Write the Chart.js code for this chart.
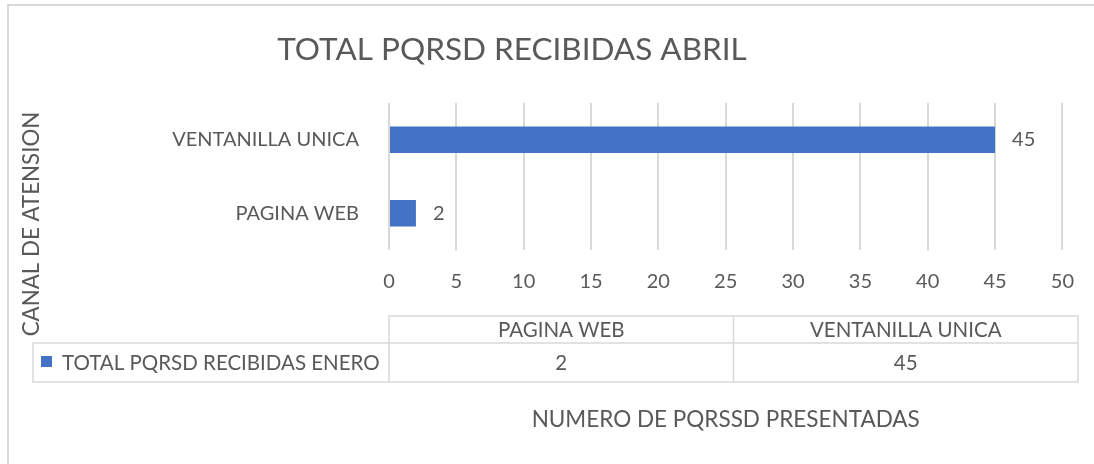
<!DOCTYPE html>
<html>
<head>
<meta charset="utf-8">
<script src="https://cdn.jsdelivr.net/npm/chart.js@4/dist/chart.umd.min.js"></script>
<style>
  html, body { margin: 0; padding: 0; background: #fff; }
  #wrap { width: 1094px; height: 464px; }
</style>
</head>
<body>
<div id="wrap"><canvas id="grafico"></canvas></div>
<script>
// datos
var categorias = ['VENTANILLA UNICA', 'PAGINA WEB'];
var valores = [45, 2];
var tablaColumnas = ['PAGINA WEB', 'VENTANILLA UNICA'];
var tablaValores = [2, 45];
var serieNombre = 'TOTAL PQRSD RECIBIDAS ENERO';
var titulo = 'TOTAL PQRSD RECIBIDAS ABRIL';
var tituloX = 'NUMERO DE PQRSSD PRESENTADAS';
var tituloY = 'CANAL DE ATENSION';

var fuente = 'Lato, "Open Sans", sans-serif';
var gris = '#595959';
var linea = '#d9d9d9';
var azul = '#4472c4';

// dibuja titulo, etiquetas, tabla de datos y borde
var extras = {
    id: 'extras',
    afterDraw: function (chart) {
        var ctx = chart.ctx;
        var area = chart.chartArea;
        ctx.save();

        // borde
        ctx.strokeStyle = linea;
        ctx.lineWidth = 2;
        ctx.beginPath();
        ctx.moveTo(8, 470);
        ctx.lineTo(8, 5);
        ctx.lineTo(1094, 5);
        ctx.stroke();

        // titulo
        ctx.fillStyle = gris;
        ctx.font = '31.5px ' + fuente;
        ctx.textAlign = 'center';
        ctx.textBaseline = 'middle';
        ctx.fillText(titulo, 512, 50);

        // titulo eje Y
        ctx.save();
        ctx.translate(32, 224);
        ctx.rotate(-Math.PI / 2);
        ctx.font = '22.3px ' + fuente;
        ctx.fillText(tituloY, 0, 0);
        ctx.restore();

        // etiquetas de datos
        ctx.font = '20px ' + fuente;
        ctx.textAlign = 'left';
        var meta = chart.getDatasetMeta(0);
        meta.data.forEach(function (bar, i) {
            ctx.fillText(String(valores[i]), bar.x + 17, bar.y);
        });

        // tabla de datos
        var t0 = 316, t1 = 343, t2 = 382;
        var c0 = 33, c1 = area.left, c3 = 1078;
        var cw = (c3 - c1) / tablaColumnas.length;
        ctx.strokeStyle = linea;
        ctx.lineWidth = 1.5;
        ctx.beginPath();
        ctx.rect(c1, t0, c3 - c1, t2 - t0);
        ctx.rect(c0, t1, c1 - c0, t2 - t1);
        ctx.moveTo(c1, t1); ctx.lineTo(c3, t1);
        for (var k = 1; k < tablaColumnas.length; k++) {
            ctx.moveTo(c1 + cw * k, t0); ctx.lineTo(c1 + cw * k, t2);
        }
        ctx.stroke();

        ctx.font = '20.5px ' + fuente;
        ctx.textAlign = 'center';
        tablaColumnas.forEach(function (c, k) {
            ctx.fillText(c, c1 + cw * (k + 0.5), (t0 + t1) / 2 + 1);
            ctx.fillText(String(tablaValores[k]), c1 + cw * (k + 0.5), (t1 + t2) / 2 + 1);
        });
        ctx.fillStyle = azul;
        ctx.fillRect(41, 356, 11, 11);
        ctx.fillStyle = gris;
        ctx.textAlign = 'left';
        ctx.fillText(serieNombre, 62, (t1 + t2) / 2 + 1);

        ctx.restore();
    }
};

var ctx = document.getElementById('grafico').getContext('2d');
var grafico = new Chart(ctx, {
    type: 'bar',
    data: {
        labels: categorias,
        datasets: [{
            label: serieNombre,
            data: valores,
            backgroundColor: azul,
            borderWidth: 0,
            barPercentage: 0.45,
            categoryPercentage: 0.8
        }]
    },
    options: {
        indexAxis: 'y',
        responsive: true,
        maintainAspectRatio: false,
        animation: false,
        layout: { padding: { top: 103, right: 28, left: 0, bottom: 0 } },
        plugins: {
            legend: { display: false },
            tooltip: { enabled: false },
            title: { display: false }
        },
        scales: {
            x: {
                min: 0,
                max: 50,
                ticks: {
                    stepSize: 5,
                    color: gris,
                    padding: 20,
                    font: { family: fuente, size: 20 }
                },
                grid: { color: linea, lineWidth: 2, drawTicks: false },
                border: { display: false },
                title: {
                    display: true,
                    text: tituloX,
                    color: gris,
                    font: { family: fuente, size: 22.5 },
                    padding: { top: 0, bottom: 31 }
                },
                afterFit: function (s) { s.height = 214; }
            },
            y: {
                ticks: {
                    color: gris,
                    padding: 22,
                    font: { family: fuente, size: 20 }
                },
                grid: { display: false },
                border: { display: false },
                afterFit: function (s) { s.width = 389; }
            }
        }
    },
    plugins: [extras]
});
</script>
</body>
</html>
